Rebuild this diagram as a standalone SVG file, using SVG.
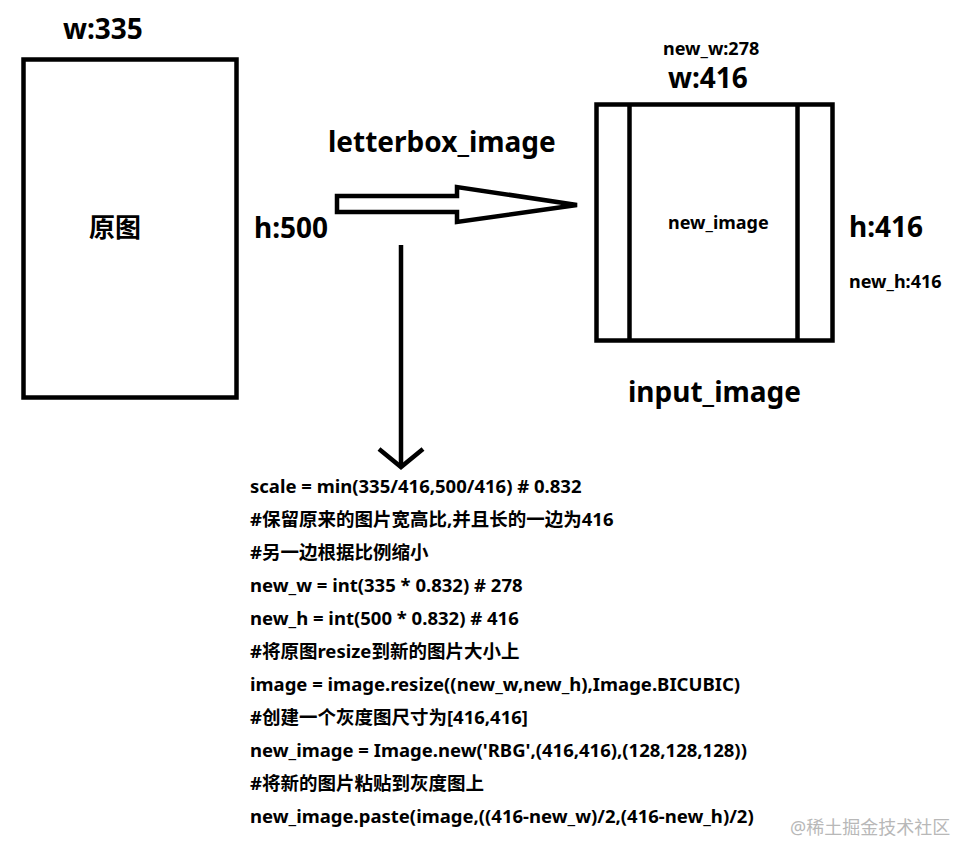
<svg xmlns="http://www.w3.org/2000/svg" width="975" height="861" viewBox="0 0 975 861">
<style>
text{font-family:"Noto Sans","Noto Sans CJK SC",sans-serif;font-weight:bold;fill:#000}
.big{font-size:28px}
.mid{font-size:18px}
.code{font-size:18.5px}
.box{fill:#fff;stroke:#000;stroke-width:4.5}
.line{fill:none;stroke:#000;stroke-width:4.5}
.wm{font-weight:normal;fill:#b8b8b8;font-size:18px}
</style>
<rect width="975" height="861" fill="#fff"/>
<g id="original">
<rect class="box" x="23.5" y="59.5" width="213" height="338"/>
<text class="big" x="63" y="39">w:335</text>
<text class="big" x="89" y="237" style="font-size:26px">原图</text>
<text class="big" x="254" y="238">h:500</text>
</g>
<g id="input_image">
<rect class="box" x="596.5" y="104.5" width="236" height="236"/>
<line class="line" x1="629.5" y1="104.5" x2="629.5" y2="340.5"/>
<line class="line" x1="797.5" y1="104.5" x2="797.5" y2="340.5"/>
<text class="mid" x="663" y="55">new_w:278</text>
<text class="big" x="668" y="88">w:416</text>
<text class="mid" x="668" y="229">new_image</text>
<text class="big" x="849" y="237">h:416</text>
<text class="mid" x="849" y="288">new_h:416</text>
<text class="big" x="628" y="402">input_image</text>
</g>
<g id="connectors">
<polygon class="box" points="337,196 457,196 457,187 577,205 457,222 457,212 337,212"/>
<text class="big" x="328" y="152">letterbox_image</text>
<line class="line" x1="401" y1="245" x2="401" y2="466"/>
<polyline class="line" points="379,449 401,467 423,449"/>
</g>
<g id="code">
<text class="code" x="250" y="493">scale = min(335/416,500/416) # 0.832</text>
<text class="code" x="250" y="526">#保留原来的图片宽高比,并且长的一边为416</text>
<text class="code" x="250" y="559">#另一边根据比例缩小</text>
<text class="code" x="250" y="592">new_w = int(335 * 0.832) # 278</text>
<text class="code" x="250" y="625">new_h = int(500 * 0.832) # 416</text>
<text class="code" x="250" y="658">#将原图resize到新的图片大小上</text>
<text class="code" x="250" y="691">image = image.resize((new_w,new_h),Image.BICUBIC)</text>
<text class="code" x="250" y="724">#创建一个灰度图尺寸为[416,416]</text>
<text class="code" x="250" y="757">new_image = Image.new('RBG',(416,416),(128,128,128))</text>
<text class="code" x="250" y="790">#将新的图片粘贴到灰度图上</text>
<text class="code" x="250" y="823">new_image.paste(image,((416-new_w)/2,(416-new_h)/2)</text>
</g>
<text class="wm" x="790" y="834">@稀土掘金技术社区</text>
</svg>
